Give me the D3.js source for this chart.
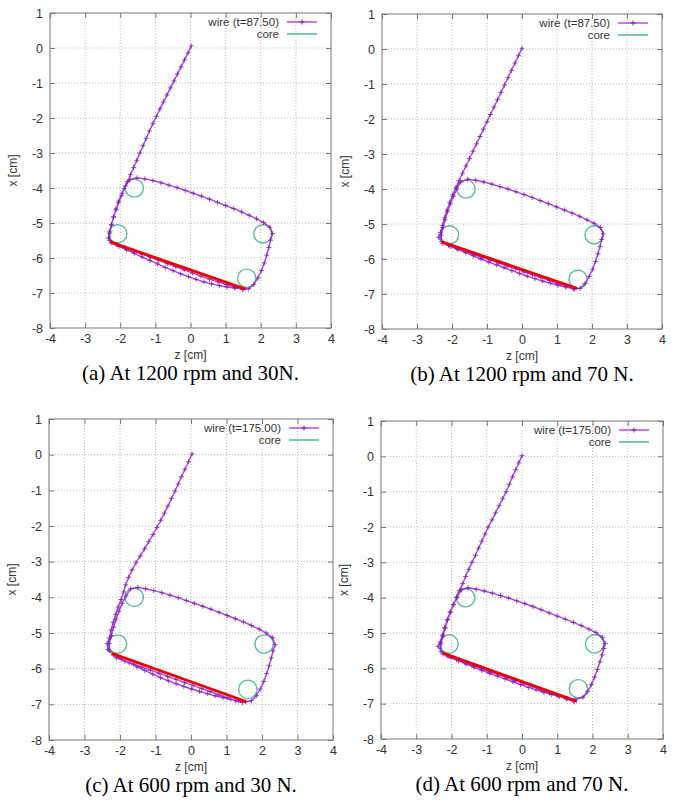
<!DOCTYPE html>
<html>
<head>
<meta charset="utf-8">
<style>
  body { margin: 0; background: #fff; }
  .lab { font-family: "Liberation Sans", Arial, sans-serif; font-size: 12px; fill: #333; }
  .leg { font-family: "Liberation Sans", Arial, sans-serif; font-size: 11.5px; fill: #333; }
  .cap { font-family: "Liberation Serif", "Times New Roman", serif; font-size: 21px; fill: #000; }
</style>
<script src="https://d3js.org/d3.v7.min.js"></script>
</head>
<body>
<svg width="678" height="801"></svg>
<script>
// axis ticks
var zTicks = [-4, -3, -2, -1, 0, 1, 2, 3, 4];
var xTicks = [1, 0, -1, -2, -3, -4, -5, -6, -7, -8];

// core positions [z, x] and radius (cm)
var cores = [[-1.6, -4.0], [-2.07, -5.31], [2.06, -5.31], [1.6, -6.58]];
var coreR = 0.26;

// wire points [z, x]
var wireA = [[0.02,0.06],[-0.07,-0.14],[-0.17,-0.34],[-0.27,-0.54],[-0.37,-0.74],[-0.47,-0.94],[-0.57,-1.14],[-0.67,-1.34],[-0.77,-1.54],[-0.87,-1.74],[-0.97,-1.95],[-1.07,-2.16],[-1.17,-2.37],[-1.26,-2.58],[-1.35,-2.79],[-1.44,-3.0],[-1.53,-3.21],[-1.62,-3.42],[-1.71,-3.62],[-1.8,-3.82],
  [-1.89,-4.02],[-1.97,-4.22],[-2.05,-4.42],[-2.12,-4.62],[-2.19,-4.83],[-2.25,-5.04],[-2.3,-5.25],[-2.34,-5.43],
  [-2.24,-5.57],[-2.04,-5.67],[-1.82,-5.77],[-1.6,-5.87],[-1.38,-5.97],[-1.16,-6.07],[-0.94,-6.17],[-0.72,-6.27],[-0.5,-6.36],[-0.28,-6.45],[-0.06,-6.53],[0.16,-6.61],[0.38,-6.68],[0.6,-6.74],[0.82,-6.79],[1.04,-6.83],[1.26,-6.86],[1.48,-6.89],[1.66,-6.88],
  [1.8,-6.76],[1.92,-6.57],[2.02,-6.36],[2.1,-6.14],[2.17,-5.92],[2.23,-5.7],[2.28,-5.49],[2.33,-5.3],[2.26,-5.12],
  [2.08,-4.99],[1.88,-4.88],[1.67,-4.78],[1.45,-4.68],[1.23,-4.59],[1.0,-4.5],[0.77,-4.41],[0.54,-4.32],[0.31,-4.23],[0.08,-4.15],[-0.15,-4.07],[-0.38,-3.99],[-0.61,-3.92],[-0.84,-3.85],[-1.07,-3.79],[-1.3,-3.74],[-1.52,-3.71],
  [-1.72,-3.76],[-1.85,-3.94],[-1.95,-4.15],[-2.04,-4.37],[-2.12,-4.6],[-2.19,-4.83],[-2.25,-5.06],[-2.3,-5.29],[-2.3,-5.5],
  [-2.1,-5.62],[-1.86,-5.71],[-1.62,-5.8],[-1.38,-5.89],[-1.14,-5.98],[-0.9,-6.07],[-0.66,-6.16],[-0.42,-6.25],[-0.18,-6.34],[0.06,-6.43],[0.3,-6.52],[0.54,-6.6],[0.78,-6.68],[1.02,-6.76],[1.26,-6.83],[1.5,-6.9]];

var wireB = [[0,0.02],[-0.1,-0.19],[-0.2,-0.4],[-0.3,-0.61],[-0.4,-0.82],[-0.5,-1.03],[-0.6,-1.24],[-0.7,-1.45],[-0.8,-1.66],[-0.9,-1.87],[-1.0,-2.08],[-1.1,-2.29],[-1.2,-2.5],[-1.3,-2.71],[-1.4,-2.92],[-1.5,-3.13],[-1.6,-3.34],[-1.7,-3.55],[-1.8,-3.76],
  [-1.89,-3.96],[-1.98,-4.17],[-2.06,-4.38],[-2.14,-4.6],[-2.21,-4.82],[-2.27,-5.04],[-2.33,-5.24],[-2.38,-5.38],
  [-2.26,-5.55],[-2.05,-5.64],[-1.83,-5.73],[-1.61,-5.82],[-1.39,-5.91],[-1.17,-6.0],[-0.95,-6.09],[-0.73,-6.17],[-0.51,-6.25],[-0.29,-6.33],[-0.07,-6.41],[0.15,-6.49],[0.37,-6.56],[0.59,-6.63],[0.81,-6.69],[1.03,-6.75],[1.25,-6.8],[1.47,-6.85],[1.66,-6.84],
  [1.8,-6.7],[1.92,-6.5],[2.02,-6.29],[2.1,-6.07],[2.17,-5.85],[2.23,-5.64],[2.28,-5.44],[2.32,-5.28],[2.24,-5.1],
  [2.06,-4.98],[1.86,-4.88],[1.65,-4.78],[1.43,-4.69],[1.21,-4.6],[0.98,-4.51],[0.75,-4.42],[0.52,-4.33],[0.29,-4.24],[0.06,-4.16],[-0.17,-4.08],[-0.4,-4.0],[-0.63,-3.93],[-0.86,-3.86],[-1.09,-3.8],[-1.32,-3.75],[-1.55,-3.72],
  [-1.75,-3.8],[-1.86,-4.0],[-1.96,-4.21],[-2.05,-4.43],[-2.13,-4.65],[-2.2,-4.88],[-2.26,-5.1],[-2.31,-5.32],[-2.3,-5.5],
  [-2.1,-5.61],[-1.86,-5.7],[-1.62,-5.78],[-1.38,-5.87],[-1.14,-5.95],[-0.9,-6.03],[-0.66,-6.12],[-0.42,-6.2],[-0.18,-6.28],[0.06,-6.37],[0.3,-6.45],[0.54,-6.53],[0.78,-6.61],[1.02,-6.7],[1.26,-6.78],[1.5,-6.86]];

var wireC = [[0.03,0.02],[-0.07,-0.2],[-0.17,-0.41],[-0.27,-0.62],[-0.36,-0.82],[-0.45,-1.02],[-0.55,-1.23],[-0.65,-1.44],[-0.75,-1.64],[-0.85,-1.84],[-0.96,-2.04],[-1.07,-2.24],[-1.19,-2.44],[-1.31,-2.64],[-1.43,-2.84],[-1.55,-3.03],[-1.66,-3.23],[-1.76,-3.44],[-1.84,-3.65],[-1.9,-3.85],
  [-1.97,-4.06],[-2.05,-4.27],[-2.12,-4.48],[-2.19,-4.7],[-2.25,-4.92],[-2.3,-5.14],[-2.36,-5.3],[-2.34,-5.46],
  [-2.18,-5.62],[-1.96,-5.73],[-1.74,-5.84],[-1.52,-5.95],[-1.3,-6.05],[-1.08,-6.15],[-0.86,-6.25],[-0.64,-6.34],[-0.42,-6.42],[-0.2,-6.5],[0.02,-6.57],[0.24,-6.64],[0.46,-6.7],[0.68,-6.76],[0.9,-6.81],[1.12,-6.86],[1.34,-6.9],[1.54,-6.93],[1.7,-6.9],
  [1.84,-6.76],[1.95,-6.57],[2.05,-6.36],[2.13,-6.14],[2.2,-5.92],[2.26,-5.7],[2.31,-5.5],[2.37,-5.33],[2.3,-5.13],
  [2.12,-5.0],[1.92,-4.89],[1.7,-4.79],[1.48,-4.69],[1.25,-4.6],[1.02,-4.51],[0.79,-4.42],[0.56,-4.33],[0.33,-4.25],[0.1,-4.17],[-0.13,-4.09],[-0.36,-4.01],[-0.59,-3.94],[-0.82,-3.87],[-1.05,-3.81],[-1.28,-3.76],[-1.5,-3.72],
  [-1.7,-3.76],[-1.83,-3.96],[-1.94,-4.17],[-2.03,-4.39],[-2.11,-4.61],[-2.18,-4.84],[-2.24,-5.07],[-2.3,-5.3],[-2.3,-5.5],
  [-2.1,-5.7],[-1.86,-5.79],[-1.62,-5.87],[-1.38,-5.96],[-1.14,-6.04],[-0.9,-6.13],[-0.66,-6.22],[-0.42,-6.3],[-0.18,-6.39],[0.06,-6.47],[0.3,-6.56],[0.54,-6.64],[0.78,-6.73],[1.02,-6.81],[1.26,-6.9],[1.45,-6.95]];

var wireD = [[0.0,0.02],[-0.09,-0.18],[-0.18,-0.38],[-0.27,-0.58],[-0.36,-0.79],[-0.45,-1.0],[-0.55,-1.2],[-0.65,-1.4],[-0.75,-1.6],[-0.85,-1.8],[-0.96,-2.0],[-1.05,-2.2],[-1.14,-2.4],[-1.23,-2.6],[-1.32,-2.8],[-1.42,-3.0],[-1.51,-3.2],[-1.6,-3.4],[-1.68,-3.6],[-1.77,-3.8],
  [-1.86,-4.0],[-1.95,-4.2],[-2.04,-4.41],[-2.12,-4.62],[-2.19,-4.84],[-2.26,-5.06],[-2.32,-5.26],[-2.38,-5.38],
  [-2.24,-5.6],[-2.02,-5.7],[-1.8,-5.79],[-1.58,-5.88],[-1.36,-5.97],[-1.14,-6.06],[-0.92,-6.14],[-0.7,-6.22],[-0.48,-6.3],[-0.26,-6.38],[-0.04,-6.46],[0.18,-6.54],[0.4,-6.61],[0.62,-6.68],[0.84,-6.74],[1.06,-6.8],[1.28,-6.85],[1.5,-6.88],[1.73,-6.82],
  [1.86,-6.66],[1.97,-6.46],[2.06,-6.25],[2.14,-6.03],[2.21,-5.82],[2.27,-5.62],[2.32,-5.44],[2.36,-5.3],[2.28,-5.12],
  [2.1,-4.99],[1.9,-4.89],[1.68,-4.79],[1.46,-4.7],[1.23,-4.61],[1.0,-4.52],[0.77,-4.43],[0.54,-4.34],[0.31,-4.25],[0.08,-4.17],[-0.15,-4.09],[-0.38,-4.01],[-0.61,-3.94],[-0.84,-3.87],[-1.07,-3.81],[-1.3,-3.76],[-1.53,-3.72],
  [-1.72,-3.78],[-1.84,-3.98],[-1.94,-4.19],[-2.03,-4.41],[-2.11,-4.63],[-2.18,-4.86],[-2.24,-5.09],[-2.3,-5.31],[-2.3,-5.52],
  [-2.1,-5.67],[-1.86,-5.75],[-1.62,-5.84],[-1.38,-5.92],[-1.14,-6.01],[-0.9,-6.1],[-0.66,-6.18],[-0.42,-6.27],[-0.18,-6.35],[0.06,-6.44],[0.3,-6.52],[0.54,-6.61],[0.78,-6.7],[1.02,-6.78],[1.26,-6.87],[1.48,-6.95]];

// straight red segment [z, x]
var redA = [[-2.29,-5.54],[1.57,-6.89]];
var redB = [[-2.29,-5.51],[1.57,-6.84]];
var redC = [[-2.23,-5.57],[1.55,-6.92]];
var redD = [[-2.24,-5.57],[1.56,-6.93]];

var legendLabels = ["wire (t=87.50)", "wire (t=87.50)", "wire (t=175.00)", "wire (t=175.00)"];
var captions = ["(a) At 1200 rpm and 30N.", "(b) At 1200 rpm and 70 N.", "(c) At 600 rpm and 30 N.", "(d) At 600 rpm and 70 N."];

var panels = [
  {left: 50, top: 13, w: 281, h: 315, wire: wireA, red: redA},
  {left: 382, top: 14, w: 280, h: 315, wire: wireB, red: redB},
  {left: 49, top: 419, w: 284, h: 321, wire: wireC, red: redC},
  {left: 381, top: 421, w: 282, h: 318, wire: wireD, red: redD}
];

var svg = d3.select("svg");
var wireColor = "#9400d3", coreColor = "#3fae92";
var fmt = d => String(d);

panels.forEach(function(p, i) {
  var x = d3.scaleLinear().domain([-4, 4]).range([0, p.w]);
  var y = d3.scaleLinear().domain([-8, 1]).range([p.h, 0]);
  var g = svg.append("g").attr("transform", "translate(" + p.left + "," + p.top + ")");

  // grid
  g.selectAll(".gx").data(zTicks.slice(1, -1)).enter().append("line")
    .attr("x1", d => x(d)).attr("x2", d => x(d)).attr("y1", 0).attr("y2", p.h)
    .attr("stroke", "#b8b8b8").attr("stroke-width", 1).attr("stroke-dasharray", "1,2");
  g.selectAll(".gy").data(xTicks.slice(1, -1)).enter().append("line")
    .attr("y1", d => y(d)).attr("y2", d => y(d)).attr("x1", 0).attr("x2", p.w)
    .attr("stroke", "#b8b8b8").attr("stroke-width", 1).attr("stroke-dasharray", "1,2");

  // axes (ticks pointing inward, mirrored)
  function style(sel) {
    sel.select(".domain").remove();
    sel.selectAll(".tick line").attr("stroke", "#777");
  }
  g.append("g").attr("transform", "translate(0," + p.h + ")")
    .call(d3.axisBottom(x).tickValues(zTicks).tickSizeInner(-5).tickSizeOuter(0).tickPadding(6).tickFormat(fmt))
    .call(style);
  g.append("g")
    .call(d3.axisLeft(y).tickValues(xTicks).tickSizeInner(-5).tickSizeOuter(0).tickPadding(7).tickFormat(fmt))
    .call(style);
  g.append("g")
    .call(d3.axisTop(x).tickValues(zTicks).tickSizeInner(-5).tickSizeOuter(0).tickFormat(""))
    .call(style);
  g.append("g").attr("transform", "translate(" + p.w + ",0)")
    .call(d3.axisRight(y).tickValues(xTicks).tickSizeInner(-5).tickSizeOuter(0).tickFormat(""))
    .call(style);
  g.selectAll(".tick text").attr("fill", "#333").attr("font-size", 12.5)
    .attr("font-family", "Liberation Sans, Arial, sans-serif");

  g.append("rect").attr("width", p.w).attr("height", p.h)
    .attr("fill", "none").attr("stroke", "#777").attr("stroke-width", 1);

  var line = d3.line().x(d => x(d[0])).y(d => y(d[1]));

  // cores
  g.selectAll(".core").data(cores).enter().append("circle")
    .attr("cx", d => x(d[0])).attr("cy", d => y(d[1]))
    .attr("r", x(coreR) - x(0))
    .attr("fill", "none").attr("stroke", coreColor).attr("stroke-width", 1.4).attr("opacity", 0.85);

  // wire
  g.append("path").datum(p.wire).attr("d", line)
    .attr("fill", "none").attr("stroke", wireColor).attr("stroke-width", 1.4).attr("opacity", 0.75);
  g.selectAll(".pt").data(p.wire).enter().append("path")
    .attr("d", d => {
      var cx = x(d[0]), cy = y(d[1]);
      return "M" + (cx - 2.5) + "," + cy + "h5M" + cx + "," + (cy - 2.5) + "v5";
    })
    .attr("stroke", "#7a1fb0").attr("stroke-width", 1).attr("opacity", 0.8);

  // red segment
  g.append("path").datum(p.red).attr("d", line)
    .attr("stroke", "#f00000").attr("stroke-width", 2.8).attr("fill", "none");

  // legend
  var lx = p.w - 52;
  g.append("text").attr("class", "leg").attr("x", lx).attr("y", 13).attr("text-anchor", "end").text(legendLabels[i]);
  g.append("text").attr("class", "leg").attr("x", lx).attr("y", 25).attr("text-anchor", "end").text("core");
  g.append("line").attr("x1", p.w - 44).attr("x2", p.w - 14).attr("y1", 9).attr("y2", 9)
    .attr("stroke", wireColor).attr("stroke-width", 1.3).attr("opacity", 0.8);
  g.append("path").attr("d", "M" + (p.w - 31.5) + ",9h5M" + (p.w - 29) + ",6.5v5")
    .attr("stroke", "#7a1fb0").attr("stroke-width", 1);
  g.append("line").attr("x1", p.w - 44).attr("x2", p.w - 14).attr("y1", 21).attr("y2", 21)
    .attr("stroke", coreColor).attr("stroke-width", 1.4);

  // axis labels
  g.append("text").attr("class", "lab").attr("x", p.w / 2).attr("y", p.h + 31)
    .attr("text-anchor", "middle").text("z [cm]");
  g.append("text").attr("class", "lab")
    .attr("transform", "translate(-33," + (p.h / 2) + ") rotate(-90)")
    .attr("text-anchor", "middle").text("x [cm]");

  // caption
  g.append("text").attr("class", "cap").attr("x", p.w / 2).attr("y", p.h + 52)
    .attr("text-anchor", "middle").text(captions[i]);
});
</script>
</body>
</html>
